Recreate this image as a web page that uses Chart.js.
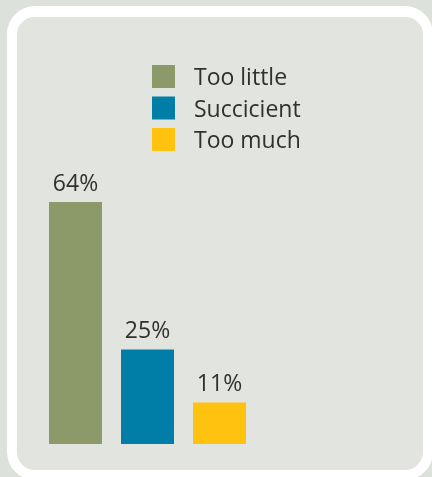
<!DOCTYPE html>
<html>
<head>
  <title>Amount of information</title>
  <script src="https://cdn.jsdelivr.net/npm/chart.js"></script>
  <style>
    html, body { margin: 0; padding: 0; background: #dde1db; overflow: hidden; }
    #frame {
      position: absolute; left: 7px; top: 6px;
      width: 406px; height: 453px;
      border: 10px solid #fff; border-top-width: 11px;
      border-radius: 28px;
      background: #e2e4df;
    }
    #wrap { position: absolute; left: 0; top: 0; width: 432px; height: 477px; }
  </style>
</head>
<body>
  <div id="frame"></div>
  <div id="wrap"><canvas id="amountChart" width="432" height="477"></canvas></div>

  <script>
    const categories = ['Too little', 'Succicient', 'Too much'];
    const shares = [64, 25, 11];
    const colors = ['#8c9a6a', '#007ea8', '#ffc20e'];

    const FONT = '"Open Sans", sans-serif';
    const TEXT = '#303030';

    // legend drawn as a vertical list above the bars
    const legendList = {
      id: 'legendList',
      afterDraw(chart) {
        const ctx = chart.ctx;
        ctx.save();
        ctx.font = '23px ' + FONT;
        ctx.textAlign = 'left';
        ctx.textBaseline = 'alphabetic';
        categories.forEach((name, i) => {
          const y = 65 + i * 31.5;
          ctx.fillStyle = colors[i];
          ctx.fillRect(152, y, 23, 23);
          ctx.fillStyle = TEXT;
          ctx.fillText(name, 194, y + 20);
        });
        ctx.restore();
      }
    };

    // percentage above each bar
    const valueLabels = {
      id: 'valueLabels',
      afterDatasetsDraw(chart) {
        const ctx = chart.ctx;
        const meta = chart.getDatasetMeta(0);
        ctx.save();
        ctx.font = '23px ' + FONT;
        ctx.fillStyle = TEXT;
        ctx.textAlign = 'center';
        ctx.textBaseline = 'alphabetic';
        meta.data.forEach((bar, i) => {
          ctx.fillText(shares[i] + '%', bar.x, bar.y - 11);
        });
        ctx.restore();
      }
    };

    const ctx = document.getElementById('amountChart').getContext('2d');
    new Chart(ctx, {
      type: 'bar',
      data: {
        labels: categories,
        datasets: [{
          data: shares,
          backgroundColor: colors,
          borderWidth: 0,
          barPercentage: 0.736,
          categoryPercentage: 1
        }]
      },
      options: {
        responsive: false,
        animation: false,
        layout: { padding: { left: 39.5, right: 176.5, top: 141.5, bottom: 33 } },
        plugins: {
          legend: { display: false },
          tooltip: { enabled: false }
        },
        scales: {
          x: { display: false },
          y: { display: false, min: 0, max: 80 }
        }
      },
      plugins: [legendList, valueLabels]
    });
  </script>
</body>
</html>
